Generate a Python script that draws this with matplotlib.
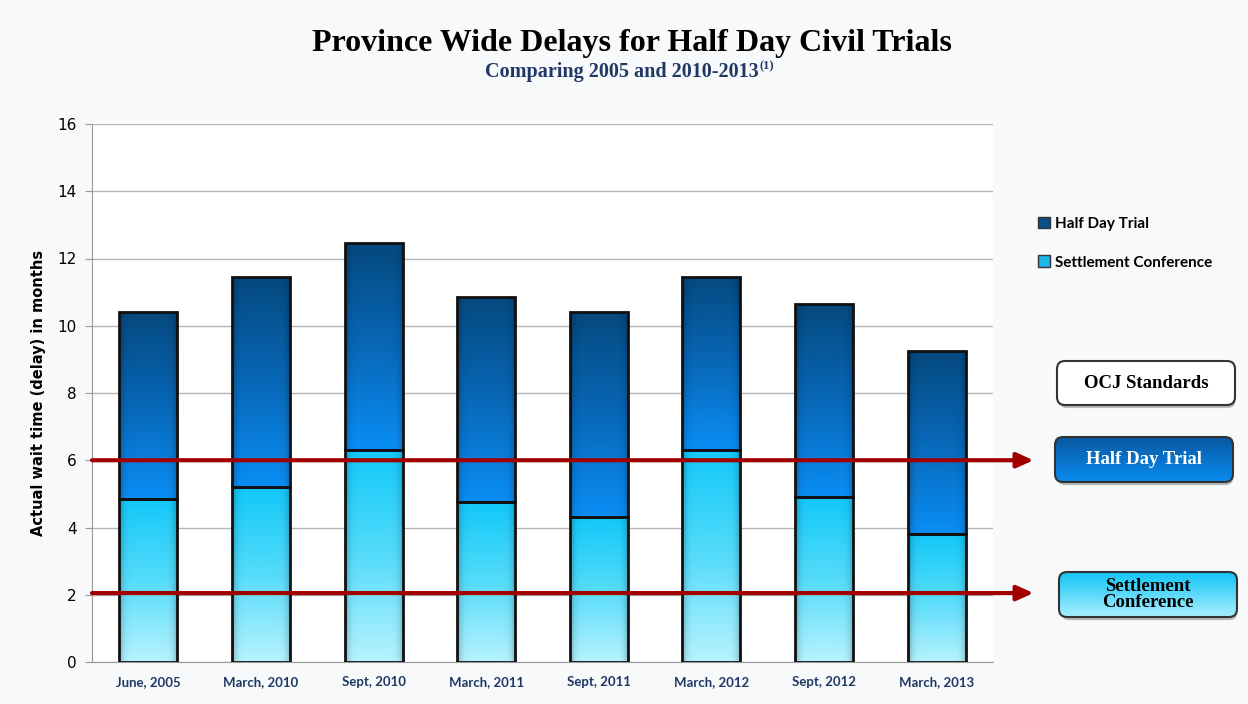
import numpy as np
import matplotlib
matplotlib.use("Agg")
import matplotlib.pyplot as plt
from matplotlib.colors import to_rgb
from matplotlib.patches import FancyBboxPatch, Patch

# Data
periods = ["June, 2005", "March, 2010", "Sept, 2010", "March, 2011",
           "Sept, 2011", "March, 2012", "Sept, 2012", "March, 2013"]
settlement = [4.85, 5.2, 6.3, 4.75, 4.3, 6.3, 4.9, 3.8]
total_delay = [10.4, 11.45, 12.45, 10.85, 10.4, 11.45, 10.65, 9.25]
half_day = [t - s for t, s in zip(total_delay, settlement)]
std_half_day = 6.0
std_settlement = 2.05

narrow = ["Lato", "DejaVu Sans"]

W, H = 1248, 704
fig = plt.figure(figsize=(W / 100, H / 100), dpi=100, facecolor="#f7f9fb")
ax = fig.add_axes([92 / W, 1 - 662 / H, 901 / W, 538 / H])
ax.set_facecolor("white")


def shade(patch, top, mid, bottom):
    # vertical gradient with darker sides, clipped to the bar
    x0, y0 = patch.get_x(), patch.get_y()
    w, h = patch.get_width(), patch.get_height()
    n, m = 200, 60
    t = np.linspace(0, 1, n)[:, None, None]
    b, c, tp = (np.array(to_rgb(v)) for v in (bottom, mid, top))
    col = np.where(t < 0.5, (1 - 2 * t) * b + 2 * t * c,
                   (2 - 2 * t) * c + (2 * t - 1) * tp)
    xs = np.linspace(-1, 1, m)
    side = 1 - 0.3 * np.abs(xs) ** 8
    img = col * side[None, :, None]
    im = ax.imshow(np.clip(img, 0, 1), extent=(x0, x0 + w, y0, y0 + h),
                   origin="lower", aspect="auto", zorder=2, interpolation="bilinear")
    im.set_clip_path(patch)


x = np.arange(len(periods))
bw = 0.515
b1 = ax.bar(x, settlement, bw, color="none", edgecolor="#111111", linewidth=2,
            zorder=3, label="Settlement Conference")
b2 = ax.bar(x, half_day, bw, bottom=settlement, color="none", edgecolor="#111111",
            linewidth=2, zorder=3, label="Half Day Trial")
for p in b1:
    shade(p, "#12c8f8", "#55dcfb", "#b8f3ff")
for p in b2:
    shade(p, "#05497f", "#0868b8", "#0a8ef5")

ax.set_xlim(-0.5, 7.5)
ax.set_ylim(0, 16)
ax.set_yticks(range(0, 17, 2))
ax.set_xticks(x)
ax.set_xticklabels(periods, fontsize=9.5, fontweight="bold", color="#1f3864",
                   family=narrow)
ax.tick_params(axis="x", length=0, pad=10)
ax.tick_params(axis="y", labelsize=11, length=5, color="#999999", pad=6)
ax.grid(axis="y", color="#b5b5b5", linewidth=1)
ax.set_axisbelow(True)
for s in ["top", "right"]:
    ax.spines[s].set_visible(False)
ax.spines["left"].set_color("#999999")
ax.spines["bottom"].set_color("#999999")
ax.set_ylabel("Actual wait time (delay) in months", fontsize=10.5,
              fontweight="bold", labelpad=8)

# standards arrows
for yv in [std_half_day, std_settlement]:
    ax.annotate("", xy=(7.86, yv), xytext=(-0.5, yv), xycoords="data",
                arrowprops=dict(arrowstyle="-|>,head_length=1.0,head_width=0.45",
                                color="#a00000", lw=3, shrinkA=0, shrinkB=0),
                zorder=5, annotation_clip=False)

# titles
fig.text(0.506, 1 - 43 / H, "Province Wide Delays for Half Day Civil Trials",
         ha="center", va="center", fontsize=23, fontweight="bold",
         family="Liberation Serif")
sub = fig.text(0.498, 1 - 72 / H, "Comparing 2005 and 2010-2013", ha="center",
               va="center", fontsize=14.5, fontweight="bold", color="#1f3864",
               family="Liberation Serif")
ax.annotate("(1)", xy=(1, 0.8), xycoords=sub, xytext=(1, 0),
            textcoords="offset points", fontsize=9, fontweight="bold",
            color="#1f3864", family="Liberation Serif", va="center", ha="left")

# legend
handles = [Patch(facecolor="#0b4f8a", edgecolor="#333333"),
           Patch(facecolor="#1ab8e8", edgecolor="#333333")]
fig.legend(handles, ["Half Day Trial", "Settlement Conference"], loc="upper left",
           bbox_to_anchor=(1024 / W, 1 - 203 / H), frameon=False,
           prop={"weight": "bold", "size": 11, "family": narrow}, handlelength=0.8,
           handleheight=0.8, handletextpad=0.3, labelspacing=1.6)


def box(x0, y0, w, h, label, top, bottom, tcolor):
    bax = fig.add_axes([x0 / W, 1 - (y0 + h) / H, w / W, h / H])
    bax.axis("off")
    bax.set_xlim(0, 1)
    bax.set_ylim(0, 1)
    shadow = FancyBboxPatch((0.012, -0.07), 0.99, 0.99,
                            boxstyle="round,pad=0,rounding_size=0.045",
                            mutation_aspect=w / h, facecolor="#777777",
                            edgecolor="none", alpha=0.5, clip_on=False,
                            transform=bax.transAxes)
    bax.add_patch(shadow)
    p = FancyBboxPatch((0, 0), 1, 1, boxstyle="round,pad=0,rounding_size=0.045",
                       mutation_aspect=w / h, facecolor="none",
                       edgecolor="#333333", linewidth=1.5, clip_on=False,
                       transform=bax.transAxes, zorder=3)
    bax.add_patch(p)
    t = np.linspace(0, 1, 100)[:, None, None]
    img = (1 - t) * np.array(to_rgb(bottom)) + t * np.array(to_rgb(top))
    im = bax.imshow(img, extent=(0, 1, 0, 1), origin="lower", aspect="auto",
                    zorder=2)
    im.set_clip_path(p)
    bax.text(0.5, 0.5, label, ha="center", va="center", fontsize=13.5,
             fontweight="bold", color=tcolor, family="Liberation Serif",
             linespacing=0.95, zorder=4)


box(1057, 361, 178, 44, "OCJ Standards", "#ffffff", "#ffffff", "black")
box(1055, 437, 178, 45, "Half Day Trial", "#0858a0", "#0a8cf0", "white")
box(1059, 572, 178, 45, "Settlement\nConference", "#12c6f6", "#a8eeff", "black")

fig.savefig("out.png", dpi=100, facecolor=fig.get_facecolor())
